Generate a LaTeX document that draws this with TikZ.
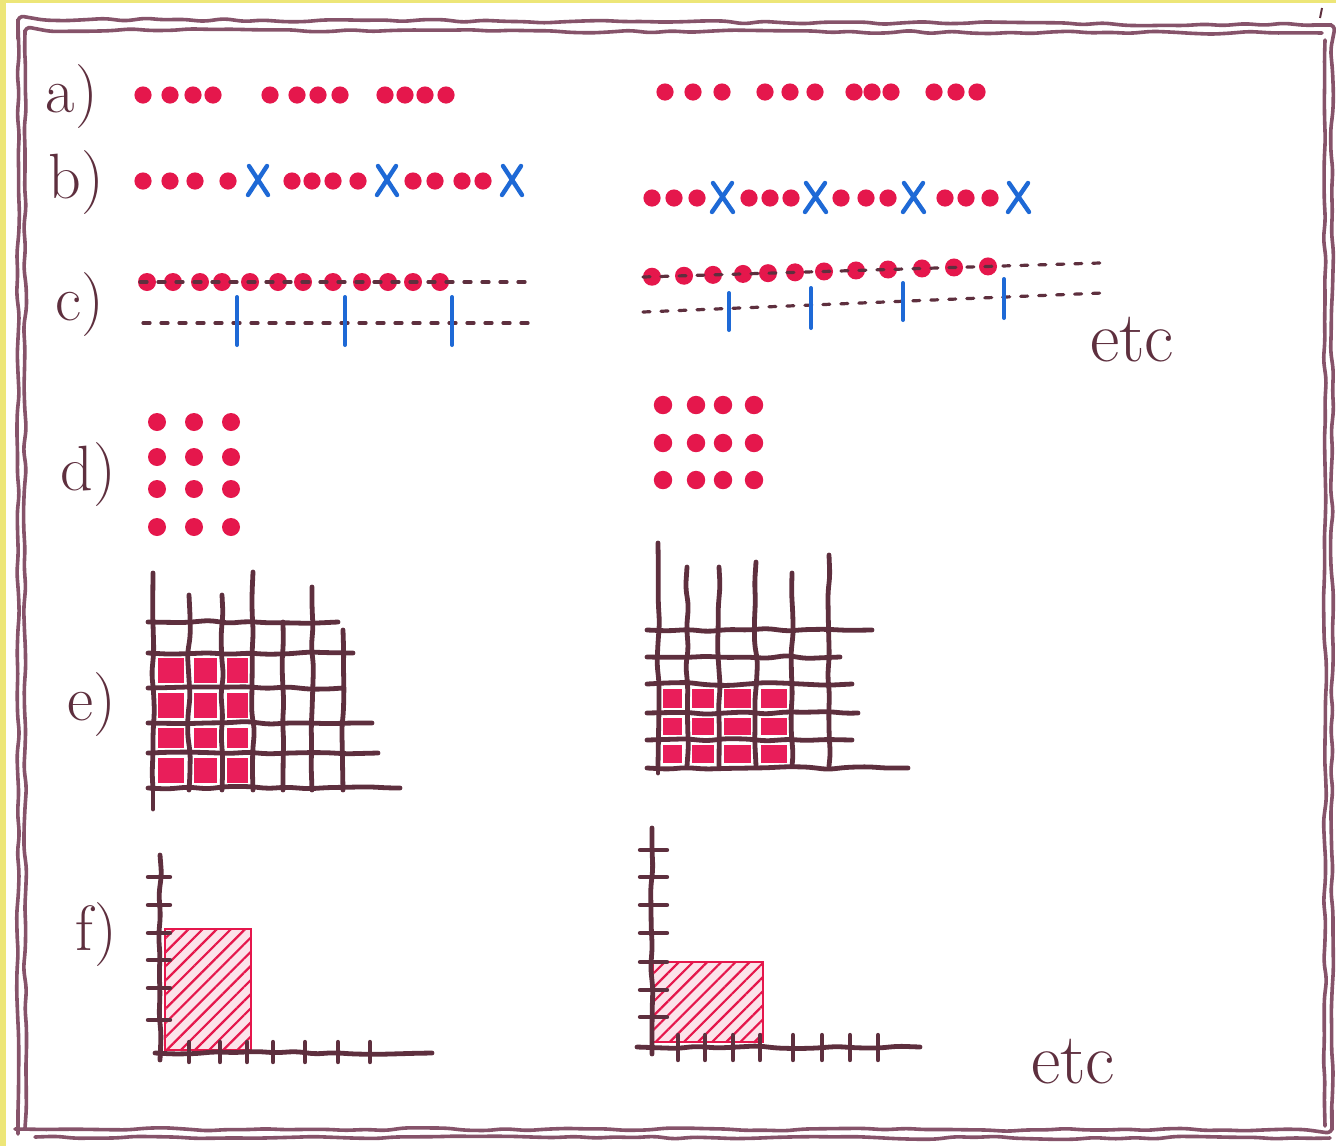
\documentclass[tikz,border=0pt]{standalone}
\usepackage{xcolor}
\definecolor{ink}{HTML}{5E2F3E}
\definecolor{frame}{HTML}{86536A}
\definecolor{dotred}{HTML}{E5174C}
\definecolor{cellpink}{HTML}{E91E5A}
\definecolor{crossblue}{HTML}{1E69D6}
\definecolor{edge}{HTML}{EDE678}
\usepackage{tikz}
\usetikzlibrary{decorations.pathmorphing,patterns.meta}

\begin{document}
\begin{tikzpicture}[x=0.5pt, y=-0.5pt,
  wobble/.style={decorate, decoration={random steps, segment length=10pt, amplitude=0.8pt}, rounded corners=3pt},
  gridline/.style={draw=ink, line width=2.4pt, line cap=round, wobble},
  frameline/.style={draw=frame, line width=1.8pt, line cap=round, wobble},
  partlabel/.style={text=ink, font=\fontsize{32}{34}\selectfont, inner sep=0pt},
  etclabel/.style={text=ink, font=\fontsize{36}{38}\selectfont, inner sep=0pt},
  dashline/.style={draw=ink, line width=1.6pt, line cap=round, dash pattern=on 3.5pt off 5.5pt},
  bluetick/.style={draw=crossblue, line width=2pt, line cap=round},
  bluecross/.style={draw=crossblue, line width=2.2pt, line cap=round}]
\pgfmathsetseed{11}
\useasboundingbox (0,0) rectangle (1336,1146);
\fill[edge] (0,0) rectangle (1336,1146);
\fill[white] (6,3) rectangle (1336,1146);

\draw[frameline] (18,1134) -- (18,19) -- (1332,25) -- (1332,1130) -- (15,1129);
\draw[frameline] (25,1128) -- (25,30) -- (1322,33);
\draw[frameline] (1325,40) -- (1325,1126);
\draw[frameline] (35,1137) -- (1330,1138);
\draw[draw=ink, line width=1pt] (1322,8) -- (1320,18);

\node[partlabel] (lbla) at (72,97) {a)};
\node[partlabel] (lblb) at (76,183) {b)};
\node[partlabel] (lblc) at (80,305) {c)};
\node[partlabel] (lbld) at (88,475) {d)};
\node[partlabel] (lble) at (92,705) {e)};
\node[partlabel] (lblf) at (96,935) {f)};
\node[etclabel] (etcone) at (1132,340) {etc};
\node[etclabel] (etctwo) at (1073,1062) {etc};

\foreach \x in {143,170,193,213,270,297,318,340,385,405,425,446}
  \fill[dotred] (\x,95) circle[radius=4.3pt];
\foreach \x in {665,693,722,765,790,815,854,872,891,934,956,977}
  \fill[dotred] (\x,92) circle[radius=4.3pt];

\foreach \x in {143,170,195,228,292,312,333,358,413,435,462,483}
  \fill[dotred] (\x,181) circle[radius=4.3pt];
\foreach \x in {258,387,512}
  \draw[bluecross] (\x-9,166) -- (\x+10,195) (\x+9,166) -- (\x-10,195);
\foreach \x in {652,674,697,749,770,791,841,866,888,945,966,990}
  \fill[dotred] (\x,198) circle[radius=4.3pt];
\foreach \x in {722,815,913,1018}
  \draw[bluecross] (\x-9,183) -- (\x+11,212) (\x+10,183) -- (\x-10,212);

\foreach \x in {147,173,200,222,250,278,303,333,362,388,413,440}
  \fill[dotred] (\x,282) circle[radius=4.5pt];
\draw[dashline] (140,282) -- (530,282);
\draw[dashline] (143,323) -- (530,323);
\foreach \x in {237,345,452}
  \draw[bluetick] (\x,297) -- (\x,345);
\foreach \x in {652,684,713,743,768,795,824,856,888,922,954,988}
  \fill[dotred] (\x,{277-14*(\x-643)/457}) circle[radius=4.5pt];
\draw[dashline] (643,277) -- (1100,263);
\draw[dashline] (643,312) -- (1102,293);
\foreach \x/\ya/\yb in {729/293/330,811/288/328,903/283/320,1004/279/318}
  \draw[bluetick] (\x,\ya) -- (\x,\yb);

\foreach \x in {157,194,231}
  \foreach \y in {422,457,489,527}
    \fill[dotred] (\x,\y) circle[radius=4.5pt];
\foreach \x in {663,696,723,754}
  \foreach \y in {405,443,480}
    \fill[dotred] (\x,\y) circle[radius=4.6pt];

\foreach \x/\xx in {153/189,189/222,222/253}
  \foreach \y/\yy in {653/688,688/723,723/753,753/788}
    \fill[cellpink] (\x+5,\y+5) rectangle (\xx-5,\yy-5);
\foreach \x/\t in {153/573,189/595,222/595,253/572,283/622,312/587,343/630}
  \draw[gridline] (\x,\t) -- (\x,790);
\draw[gridline] (153,790) -- (153,809);
\foreach \y/\r in {622/338,653/353,688/343,723/372,753/378,788/400}
  \draw[gridline] (148,\y) -- (\r,\y);

\foreach \x/\xx in {658/687,687/719,719/756,756/792}
  \foreach \y/\yy in {684/713,713/740,740/768}
    \fill[cellpink] (\x+5,\y+5) rectangle (\xx-5,\yy-5);
\foreach \x/\t in {658/543,687/567,719/567,756/562,792/573,829/555}
  \draw[gridline] (\x,\t) -- (\x,766);
\draw[gridline] (658,766) -- (658,773);
\foreach \y/\r in {630/872,657/840,684/852,713/858,740/852,768/908}
  \draw[gridline] (647,\y) -- (\r,\y);

\fill[dotred!12] (165,929) rectangle (251,1050);
\fill[pattern={Lines[angle=45,distance=5pt,line width=1.1pt]}, pattern color=dotred] (165,929) rectangle (251,1050);
\draw[dotred, line width=1.3pt] (165,929) rectangle (251,1050);
\draw[gridline] (160,855) -- (160,1060);
\draw[gridline] (155,1053) -- (432,1053);
\foreach \y in {877,905,933,960,988,1020}
  \draw[draw=ink, line width=2.2pt, line cap=round] (148,\y) -- (170,\y);
\foreach \x in {189,220,247,273,305,338,370}
  \draw[draw=ink, line width=2.2pt, line cap=round] (\x,1042) -- (\x,1062);

\fill[dotred!12] (653,962) rectangle (763,1042);
\fill[pattern={Lines[angle=45,distance=5pt,line width=1.1pt]}, pattern color=dotred] (653,962) rectangle (763,1042);
\draw[dotred, line width=1.3pt] (653,962) rectangle (763,1042);
\draw[gridline] (652,828) -- (652,1054);
\draw[gridline] (637,1047) -- (920,1047);
\foreach \y in {850,877,905,933,962,990,1017}
  \draw[draw=ink, line width=2.2pt, line cap=round] (640,\y) -- (667,\y);
\foreach \x in {678,705,733,760,793,822,850,878}
  \draw[draw=ink, line width=2.2pt, line cap=round] (\x,1035) -- (\x,1060);
\end{tikzpicture}
\end{document}
